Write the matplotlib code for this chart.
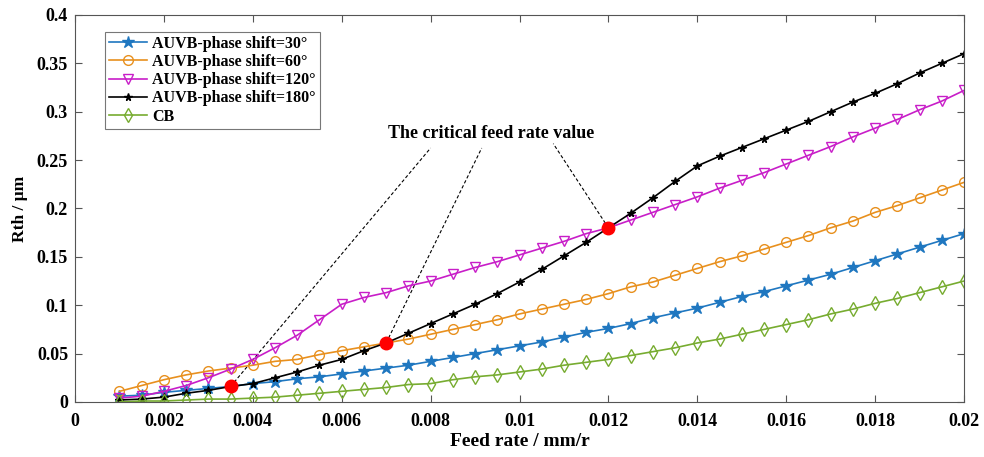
import matplotlib
matplotlib.use('Agg')
import matplotlib.pyplot as plt
import numpy as np

plt.rcParams['font.family'] = ['Liberation Serif', 'DejaVu Serif']
plt.rcParams['font.weight'] = 'bold'

# feed rate, 0.001 .. 0.02 in steps of 0.0005
feed = [0.001, 0.0015, 0.002, 0.0025, 0.003, 0.0035, 0.004, 0.0045, 0.005, 0.0055,
        0.006, 0.0065, 0.007, 0.0075, 0.008, 0.0085, 0.009, 0.0095, 0.01, 0.0105,
        0.011, 0.0115, 0.012, 0.0125, 0.013, 0.0135, 0.014, 0.0145, 0.015, 0.0155,
        0.016, 0.0165, 0.017, 0.0175, 0.018, 0.0185, 0.019, 0.0195, 0.02]

shift30 = [0.006, 0.007, 0.010, 0.012, 0.014, 0.016, 0.019, 0.021, 0.024, 0.026,
           0.029, 0.032, 0.035, 0.038, 0.042, 0.046, 0.050, 0.054, 0.058, 0.062,
           0.067, 0.072, 0.076, 0.081, 0.087, 0.092, 0.097, 0.103, 0.109, 0.114,
           0.120, 0.126, 0.132, 0.139, 0.146, 0.153, 0.160, 0.167, 0.174]

shift60 = [0.011, 0.017, 0.023, 0.028, 0.032, 0.035, 0.038, 0.042, 0.044, 0.049,
           0.053, 0.057, 0.061, 0.065, 0.070, 0.075, 0.080, 0.085, 0.091, 0.096,
           0.101, 0.106, 0.112, 0.119, 0.124, 0.131, 0.138, 0.145, 0.151, 0.158,
           0.165, 0.172, 0.180, 0.187, 0.196, 0.203, 0.211, 0.219, 0.227]

shift120 = [0.004, 0.006, 0.011, 0.017, 0.025, 0.034, 0.044, 0.056, 0.069, 0.085,
            0.101, 0.108, 0.113, 0.120, 0.125, 0.132, 0.139, 0.145, 0.152, 0.159,
            0.166, 0.174, 0.180, 0.188, 0.196, 0.204, 0.212, 0.221, 0.229, 0.237,
            0.246, 0.255, 0.264, 0.274, 0.283, 0.292, 0.302, 0.311, 0.322]

shift180 = [0.002, 0.003, 0.005, 0.009, 0.012, 0.016, 0.019, 0.025, 0.031, 0.038,
            0.044, 0.053, 0.061, 0.071, 0.081, 0.091, 0.101, 0.112, 0.124, 0.137,
            0.151, 0.165, 0.180, 0.195, 0.211, 0.228, 0.244, 0.254, 0.263, 0.272,
            0.281, 0.290, 0.300, 0.310, 0.319, 0.329, 0.340, 0.350, 0.360]

cb = [0.000, 0.001, 0.001, 0.002, 0.003, 0.003, 0.004, 0.005, 0.007, 0.009,
      0.011, 0.013, 0.015, 0.018, 0.019, 0.023, 0.026, 0.028, 0.031, 0.034,
      0.038, 0.041, 0.044, 0.048, 0.052, 0.056, 0.061, 0.065, 0.070, 0.075,
      0.080, 0.085, 0.091, 0.096, 0.102, 0.107, 0.113, 0.119, 0.125]

# critical points (red dots) and where the leader lines end near the label
crit_x = [0.0035, 0.007, 0.012]
crit_y = [0.016, 0.061, 0.180]
lead_x = [0.0080, 0.00915, 0.01076]
lead_y = [0.2625, 0.2625, 0.267]

fig = plt.figure(figsize=(9.84, 4.57), dpi=100)
ax = fig.add_axes([0.0762, 0.1204, 0.9035, 0.8468])

ax.plot(feed, shift30, '-*', color='#1f77c0', ms=9, lw=1.2, label='AUVB-phase shift=30°')
ax.plot(feed, shift60, '-o', color='#e8901e', ms=7, mfc='none', lw=1.2, label='AUVB-phase shift=60°')
ax.plot(feed, shift120, '-v', color='#c81ec8', ms=7.5, mfc='none', lw=1.2, label='AUVB-phase shift=120°')
ax.plot(feed, shift180, '-*', color='black', ms=5.5, lw=1.2, label='AUVB-phase shift=180°')
ax.plot(feed, cb, '-d', color='#77ac30', ms=7.5, mfc='none', lw=1.2, label='CB')

for cx, cy, lx, ly in zip(crit_x, crit_y, lead_x, lead_y):
    ax.plot([cx, lx], [cy, ly], '--', color='black', lw=0.8, dashes=(3, 2), zorder=1)
ax.plot(crit_x, crit_y, 'o', color='red', ms=9, zorder=5)

ax.text(0.00937, 0.278, 'The critical feed rate value', ha='center', va='center',
        fontsize=13, fontweight='bold')

ax.set_xlim(0, 0.02)
ax.set_ylim(0, 0.4)
ax.set_xticks(np.arange(0, 0.0201, 0.002))
ax.set_xticklabels(['0', '0.002', '0.004', '0.006', '0.008', '0.01', '0.012',
                    '0.014', '0.016', '0.018', '0.02'])
ax.set_yticks(np.arange(0, 0.401, 0.05))
ax.set_yticklabels(['0', '0.05', '0.1', '0.15', '0.2', '0.25', '0.3', '0.35', '0.4'])
ax.tick_params(direction='in', top=True, right=True, labelsize=13, length=5,
               color='#555555')
ax.tick_params(axis='x', pad=8)
ax.tick_params(axis='y', pad=5)
for s in ax.spines.values():
    s.set_color('#555555')

ax.set_xlabel('Feed rate / mm/r', fontsize=14, fontweight='bold', labelpad=2)
ax.set_ylabel('Rth / μm', fontsize=12.5, fontweight='bold', labelpad=6)

leg = ax.legend(loc='upper left', bbox_to_anchor=(0.0337, 0.957), borderaxespad=0,
                fontsize=11.5, frameon=True, fancybox=False, edgecolor='#555555',
                handlelength=2.4, labelspacing=0.14, borderpad=0.25, handletextpad=0.3)
leg.get_frame().set_linewidth(0.8)

fig.savefig('out.png', dpi=100)
